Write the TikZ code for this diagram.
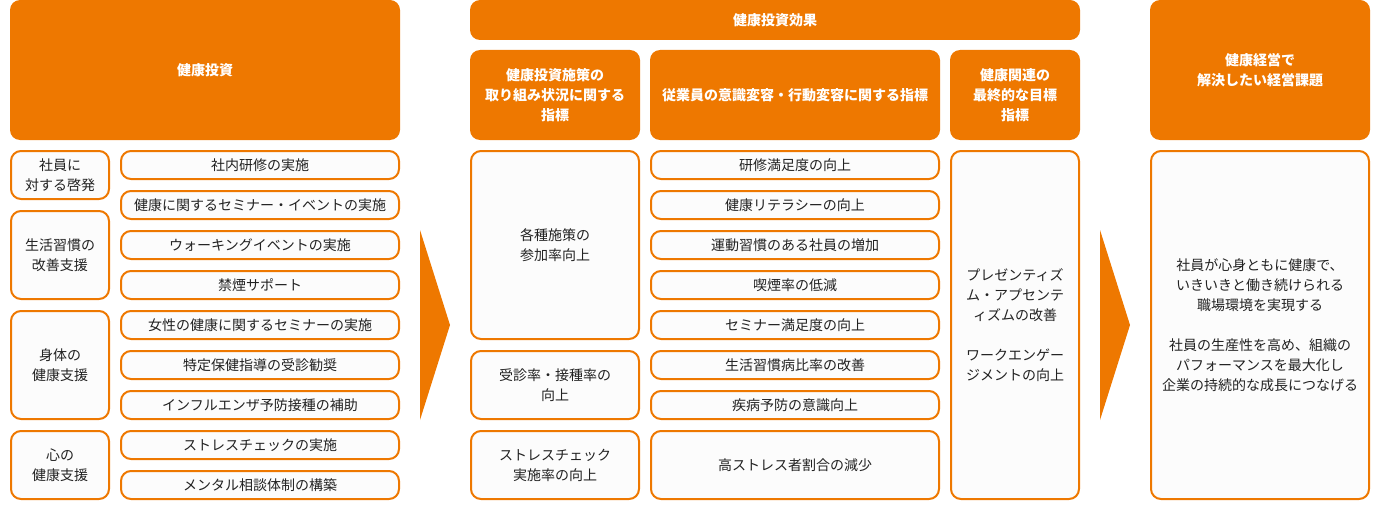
\documentclass[tikz,border=0pt]{standalone}
\usepackage{fontspec}
\setmainfont{Noto Sans CJK JP}
\definecolor{kor}{RGB}{238,120,0}
\definecolor{ktx}{RGB}{34,34,34}
\definecolor{kfill}{RGB}{252,252,252}
\begin{document}
\begin{tikzpicture}[x=0.75pt,y=-0.75pt,
  every node/.style={inner sep=0pt,outer sep=0pt},
  hdr/.style={fill=kor,rounded corners=7.5pt,text=white,align=center,
    font=\fontsize{10.5pt}{15pt}\selectfont\bfseries},
  obox/.style={draw=kor,line width=1.5pt,fill=kfill,rounded corners=7.5pt,
    text=ktx,align=center,font=\fontsize{10.5pt}{15pt}\selectfont},
  cat/.style={obox,minimum width=73.5pt},
  item/.style={obox,minimum width=208.5pt,minimum height=21pt},
  cone/.style={obox,minimum width=126pt},
  ctwo/.style={obox,minimum width=216pt},
  arrowshape/.style={fill=kor}]
\useasboundingbox (0,0) rectangle (1380,510);
% left column
\node[hdr,minimum width=292.5pt,minimum height=105pt] (h1) at (205,70) {健康投資};
\node[cat,minimum height=36pt] (c1) at (60,175) {社員に\\対する啓発};
\node[cat,minimum height=66pt] (c2) at (60,255) {生活習慣の\\改善支援};
\node[cat,minimum height=81pt] (c3) at (60,365) {身体の\\健康支援};
\node[cat,minimum height=51pt] (c4) at (60,465) {心の\\健康支援};
\node[item] (i1) at (260,165) {社内研修の実施};
\node[item] (i2) at (260,205) {健康に関するセミナー・イベントの実施};
\node[item] (i3) at (260,245) {ウォーキングイベントの実施};
\node[item] (i4) at (260,285) {禁煙サポート};
\node[item] (i5) at (260,325) {女性の健康に関するセミナーの実施};
\node[item] (i6) at (260,365) {特定保健指導の受診勧奨};
\node[item] (i7) at (260,405) {インフルエンザ予防接種の補助};
\node[item] (i8) at (260,445) {ストレスチェックの実施};
\node[item] (i9) at (260,485) {メンタル相談体制の構築};
% arrow 1
\coordinate (a1t) at (420,230);
\coordinate (a1p) at (450,325);
\coordinate (a1b) at (420,420);
\fill[arrowshape] (a1t) -- (a1p) -- (a1b) -- cycle;
% middle
\node[hdr,minimum width=457.5pt,minimum height=30pt] (h2) at (775,20) {健康投資効果};
\node[hdr,minimum width=127.5pt,minimum height=67.5pt] (s1) at (555,95) {健康投資施策の\\取り組み状況に関する\\指標};
\node[hdr,minimum width=217.5pt,minimum height=67.5pt] (s2) at (795,95) {従業員の意識変容・行動変容に関する指標};
\node[hdr,minimum width=97.5pt,minimum height=67.5pt] (s3) at (1015,95) {健康関連の\\最終的な目標\\指標};
\node[cone,minimum height=141pt] (m1) at (555,245) {各種施策の\\参加率向上};
\node[cone,minimum height=51pt] (m2) at (555,385) {受診率・接種率の\\向上};
\node[cone,minimum height=51pt] (m3) at (555,465) {ストレスチェック\\実施率の向上};
\node[ctwo,minimum height=21pt] (n1) at (795,165) {研修満足度の向上};
\node[ctwo,minimum height=21pt] (n2) at (795,205) {健康リテラシーの向上};
\node[ctwo,minimum height=21pt] (n3) at (795,245) {運動習慣のある社員の増加};
\node[ctwo,minimum height=21pt] (n4) at (795,285) {喫煙率の低減};
\node[ctwo,minimum height=21pt] (n5) at (795,325) {セミナー満足度の向上};
\node[ctwo,minimum height=21pt] (n6) at (795,365) {生活習慣病比率の改善};
\node[ctwo,minimum height=21pt] (n7) at (795,405) {疾病予防の意識向上};
\node[ctwo,minimum height=51pt] (n8) at (795,465) {高ストレス者割合の減少};
\node[obox,minimum width=96pt,minimum height=261pt] (g1) at (1015,325)
  {プレゼンティズ\\ム・アプセンテ\\ィズムの改善\\[15pt]ワークエンゲー\\ジメントの向上};
% arrow 2
\coordinate (a2t) at (1100,230);
\coordinate (a2p) at (1130,325);
\coordinate (a2b) at (1100,420);
\fill[arrowshape] (a2t) -- (a2p) -- (a2b) -- cycle;
% right
\node[hdr,minimum width=165pt,minimum height=105pt] (h3) at (1260,70) {健康経営で\\解決したい経営課題};
\node[obox,minimum width=163.5pt,minimum height=261pt] (r1) at (1260,325)
  {社員が心身ともに健康で、\\いきいきと働き続けられる\\職場環境を実現する\\[15pt]社員の生産性を高め、組織の\\パフォーマンスを最大化し\\企業の持続的な成長につなげる};
\end{tikzpicture}
\end{document}
